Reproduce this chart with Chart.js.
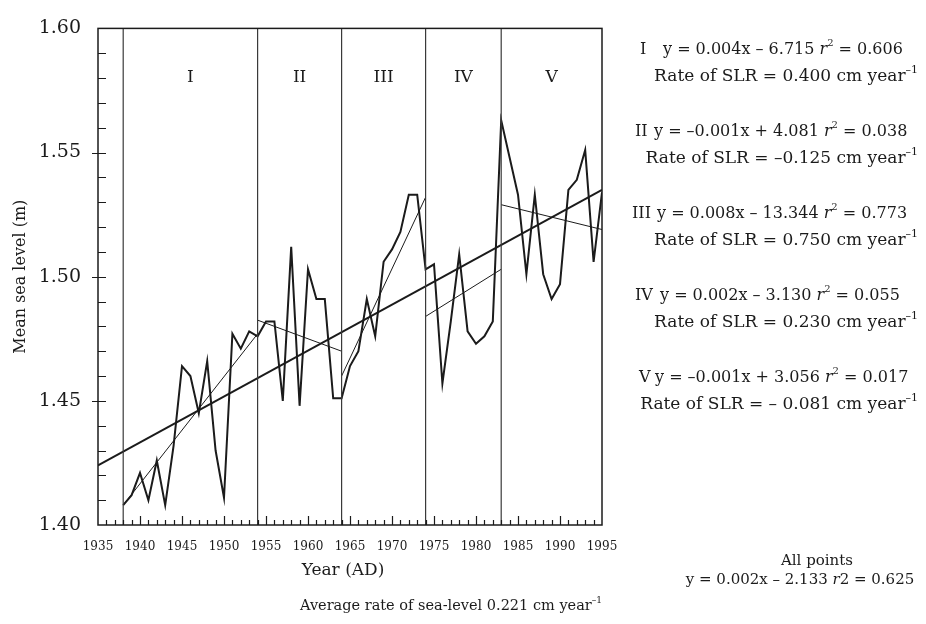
<!DOCTYPE html>
<html>
<head>
<meta charset="utf-8">
<script src="https://cdn.jsdelivr.net/npm/chart.js@4.4.1/dist/chart.umd.min.js"></script>
<style>
  html, body { margin: 0; padding: 0; background: #fff; }
  #wrap { width: 926px; height: 624px; }
</style>
</head>
<body>
<div id="wrap"><canvas id="seaChart" width="926" height="624"></canvas></div>
<script>
// annual mean sea level (m)
const years = [1938, 1939, 1940, 1941, 1942, 1943, 1944, 1945, 1946, 1947,
  1948, 1949, 1950, 1951, 1952, 1953, 1954, 1955, 1956, 1957,
  1958, 1959, 1960, 1961, 1962, 1963, 1964, 1965, 1966, 1967,
  1968, 1969, 1970, 1971, 1972, 1973, 1974, 1975, 1976, 1977,
  1978, 1979, 1980, 1981, 1982, 1983, 1984, 1985, 1986, 1987,
  1988, 1989, 1990, 1991, 1992, 1993, 1994, 1995];
const seaLevel = [1.408, 1.412, 1.421, 1.410, 1.426, 1.408, 1.432, 1.464, 1.460, 1.445,
  1.466, 1.430, 1.411, 1.477, 1.471, 1.478, 1.476, 1.482, 1.482, 1.450,
  1.512, 1.448, 1.503, 1.491, 1.491, 1.451, 1.451, 1.464, 1.470, 1.491,
  1.476, 1.506, 1.511, 1.518, 1.533, 1.533, 1.503, 1.505, 1.457, 1.482,
  1.509, 1.478, 1.473, 1.476, 1.482, 1.563, 1.548, 1.533, 1.501, 1.533,
  1.501, 1.491, 1.497, 1.535, 1.539, 1.551, 1.506, 1.534];

// fitted line through all points
const allFitYears = [1935, 1995];
const allFitLevel = [1.424, 1.535];

// phases I-V: boundaries and their fitted lines
const phaseNames = ["I", "II", "III", "IV", "V"];
const phaseBreaks = [1938, 1954, 1964, 1974, 1983, 1995];
const phaseFitStart = [1.408, 1.4825, 1.460, 1.484, 1.529];
const phaseFitEnd = [1.477, 1.470, 1.532, 1.503, 1.519];

const xTickLabels = [1935, 1940, 1945, 1950, 1955, 1960, 1965, 1970, 1975, 1980, 1985, 1990, 1995];
const yTickLabels = [1.40, 1.45, 1.50, 1.55, 1.60];

// equation, r2, rate of SLR for each phase
const phaseEquations = [
  ["y = 0.004x \u2013 6.715 ", "0.606", "0.400"],
  ["y = \u20130.001x + 4.081 ", "0.038", "\u20130.125"],
  ["y = 0.008x \u2013 13.344 ", "0.773", "0.750"],
  ["y = 0.002x \u2013 3.130 ", "0.055", "0.230"],
  ["y = \u20130.001x + 3.056 ", "0.017", "\u2013 0.081"]
];

const SERIF = "'DejaVu Serif', serif";
const INK = "#1b1b1b";

const datasets = [];
// phase dividers
phaseBreaks.slice(0, 5).forEach(yr => {
  datasets.push({
    data: [{ x: yr, y: 1.40 }, { x: yr, y: 1.60 }],
    borderColor: "#3a3a3a", borderWidth: 1.2
  });
});
// phase fits
phaseNames.forEach((n, i) => {
  datasets.push({
    data: [{ x: phaseBreaks[i], y: phaseFitStart[i] }, { x: phaseBreaks[i + 1], y: phaseFitEnd[i] }],
    borderColor: INK, borderWidth: 1
  });
});
// all-points fit
datasets.push({
  data: allFitYears.map((x, i) => ({ x, y: allFitLevel[i] })),
  borderColor: INK, borderWidth: 2
});
// observations
datasets.push({
  data: years.map((x, i) => ({ x, y: seaLevel[i] })),
  borderColor: INK, borderWidth: 2
});

function setFont(ctx, kind, size) {
  if (kind === "sup") ctx.font = Math.round(size * 0.64) + "px " + SERIF;
  else if (kind === "i") ctx.font = "italic " + size + "px " + SERIF;
  else ctx.font = size + "px " + SERIF;
}

// draw a line of mixed text (normal, italic, superscript)
function drawRuns(ctx, runs, x, y, size, align) {
  let w = 0;
  runs.forEach(([t, k]) => { setFont(ctx, k, size); w += ctx.measureText(t).width; });
  let cx = align === "right" ? x - w : align === "center" ? x - w / 2 : x;
  ctx.textAlign = "left";
  ctx.textBaseline = "alphabetic";
  runs.forEach(([t, k]) => {
    setFont(ctx, k, size);
    ctx.fillText(t, cx, k === "sup" ? y - size * 0.5 : y);
    cx += ctx.measureText(t).width;
  });
}

const decorations = {
  id: "decorations",
  afterDatasetsDraw(chart) {
    const { ctx, chartArea: a, scales: { x, y } } = chart;
    ctx.save();
    ctx.strokeStyle = INK;
    ctx.lineWidth = 1.5;
    ctx.strokeRect(a.left, a.top, a.right - a.left, a.bottom - a.top);

    // inward ticks
    ctx.lineWidth = 1.2;
    ctx.beginPath();
    for (let k = 141; k < 160; k++) {
      const py = Math.round(y.getPixelForValue(k / 100)) + 0.5;
      const major = k % 5 === 0;
      ctx.moveTo(a.left - (major ? 6 : 0), py);
      ctx.lineTo(a.left + 8, py);
    }
    for (let yr = 1936; yr < 1995; yr++) {
      const px = Math.round(x.getPixelForValue(yr)) + 0.5;
      ctx.moveTo(px, a.bottom);
      ctx.lineTo(px, a.bottom - (yr % 5 === 0 ? 9 : 5));
    }
    ctx.stroke();

    ctx.fillStyle = INK;
    // phase names
    ctx.font = "17px " + SERIF;
    ctx.textAlign = "center";
    ctx.textBaseline = "middle";
    phaseNames.forEach((n, i) => {
      const cx = x.getPixelForValue((phaseBreaks[i] + phaseBreaks[i + 1]) / 2);
      ctx.fillText(n, cx, y.getPixelForValue(1.58));
    });

    // axis titles
    ctx.save();
    ctx.font = "16px " + SERIF;
    ctx.translate(21, (a.top + a.bottom) / 2);
    ctx.rotate(-Math.PI / 2);
    ctx.fillText("Mean sea level (m)", 0, 0);
    ctx.restore();
    ctx.font = "17px " + SERIF;
    ctx.textAlign = "center";
    ctx.fillText("Year (AD)", 343, 571);

    // equations on the right
    const eqBase = [54, 136, 218, 300, 382];
    const numX = [640, 635, 632, 635, 639];
    const eqX = [663, 654, 657, 660, 655];
    phaseEquations.forEach((eq, i) => {
      const by = eqBase[i];
      drawRuns(ctx, [[phaseNames[i], ""]], numX[i], by, 16, "left");
      drawRuns(ctx, [[eq[0], ""], ["r", "i"], ["2", "sup"], [" = " + eq[1], ""]], eqX[i], by, 16, "left");
      drawRuns(ctx, [["Rate of SLR = " + eq[2] + " cm year", ""], ["\u20131", "sup"]], 918, by + 27, 17, "right");
    });
    drawRuns(ctx, [["All points", ""]], 817, 565, 15, "center");
    drawRuns(ctx, [["y = 0.002x \u2013 2.133 ", ""], ["r", "i"], ["2 = 0.625", ""]], 800, 584, 15, "center");
    drawRuns(ctx, [["Average rate of sea-level 0.221 cm year", ""], ["\u20131", "sup"]], 300, 610, 14.5, "left");
    ctx.restore();
  }
};

Chart.defaults.font.family = SERIF;
Chart.defaults.color = INK;

new Chart(document.getElementById("seaChart"), {
  type: "scatter",
  data: { datasets },
  options: {
    responsive: false,
    animation: false,
    showLine: true,
    elements: { point: { radius: 0 }, line: { tension: 0 } },
    layout: { padding: { left: 0, top: 21, right: 324, bottom: 0 } },
    plugins: { legend: { display: false }, tooltip: { enabled: false } },
    scales: {
      x: {
        type: "linear", min: 1935, max: 1995,
        grid: { display: false, drawTicks: false },
        border: { display: false },
        afterBuildTicks: s => { s.ticks = xTickLabels.map(v => ({ value: v })); },
        afterFit: s => { s.height = 99; },
        ticks: { font: { size: 12 }, padding: 15, maxRotation: 0, autoSkip: false, callback: v => String(v) }
      },
      y: {
        type: "linear", min: 1.40, max: 1.60,
        grid: { display: false, drawTicks: false },
        border: { display: false },
        afterBuildTicks: s => { s.ticks = yTickLabels.map(v => ({ value: v })); },
        afterFit: s => { s.width = 98; },
        ticks: { font: { size: 19 }, padding: 17, callback: v => v.toFixed(2) }
      }
    }
  },
  plugins: [decorations]
});
</script>
</body>
</html>
